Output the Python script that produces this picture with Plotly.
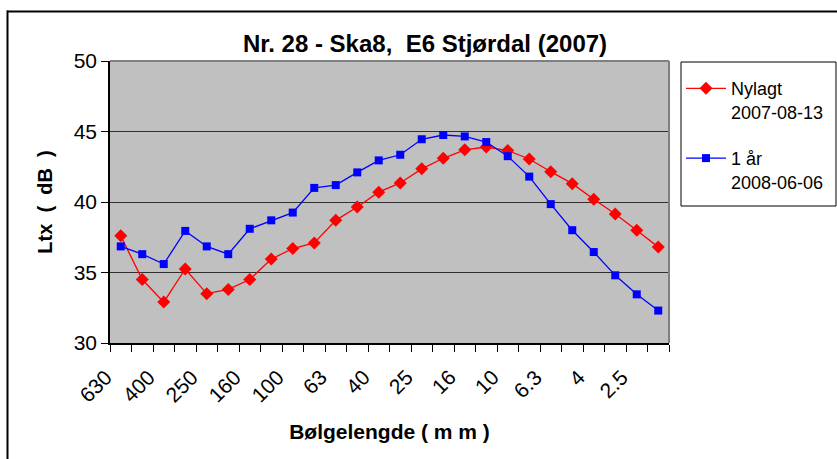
import plotly.graph_objects as go

categories = ["630", "500", "400", "315", "250", "200", "160", "125", "100", "80",
              "63", "50", "40", "31.5", "25", "20", "16", "12.5", "10", "8",
              "6.3", "5", "4", "3.2", "2.5", "2"]
tick_labels = [c if i % 2 == 0 else "" for i, c in enumerate(categories)]

nylagt = [37.6, 34.5, 32.9, 35.25, 33.5, 33.8, 34.5, 35.95, 36.7, 37.1,
          38.7, 39.65, 40.7, 41.35, 42.35, 43.1, 43.7, 43.9, 43.65, 43.05,
          42.15, 41.3, 40.2, 39.15, 38.0, 36.8]
ett_aar = [36.85, 36.3, 35.6, 37.95, 36.85, 36.3, 38.1, 38.7, 39.25, 41.0,
           41.2, 42.1, 42.95, 43.35, 44.45, 44.75, 44.65, 44.25, 43.25, 41.8,
           39.85, 38.0, 36.45, 34.8, 33.45, 32.3]

FONT = "Liberation Sans, Arial, sans-serif"

fig = go.Figure()
fig.add_trace(go.Scatter(
    x=categories, y=nylagt, mode="lines+markers", name="Nylagt<br>2007-08-13",
    line=dict(color="#FF0000", width=1.3), legendgroup="a",
    marker=dict(symbol="diamond", size=10, color="#FF0000")))
fig.add_trace(go.Scatter(
    x=categories, y=ett_aar, mode="lines+markers", name="1 år<br>2008-06-06",
    line=dict(color="#0000FF", width=1.3), legendgroup="b",
    marker=dict(symbol="square", size=8, color="#0000FF")))

L, R, T, B = 110, 669, 61, 343
W, H = 837, 459
pw, ph = R - L, B - T

fig.update_layout(
    width=W, height=H,
    margin=dict(l=L, r=W - R, t=T, b=H - B, autoexpand=False),
    paper_bgcolor="white", plot_bgcolor="#C0C0C0",
    font=dict(family=FONT, color="black", size=15),
    title=dict(text="<b>Nr. 28 - Ska8,  E6 Stjørdal (2007)</b>", x=425 / W, xref="container",
               xanchor="center", y=1 - 44 / H, yref="container", yanchor="middle",
               font=dict(size=24, family=FONT, color="black")),
    legend=dict(x=(681 - L) / pw, xanchor="left", y=1.0, yanchor="top",
                borderwidth=0, bgcolor="rgba(0,0,0,0)",
                font=dict(size=18, family=FONT), tracegroupgap=20,
                itemwidth=40, valign="top",
                title=dict(text=" ", font=dict(size=7))),
    showlegend=True,
)
fig.update_xaxes(
    type="category", categoryorder="array", categoryarray=categories,
    tickmode="array", tickvals=categories, ticktext=tick_labels,
    tickson="boundaries", ticks="outside", ticklen=7, tickcolor="black",
    tickangle=-45, tickfont=dict(size=21, family=FONT),
    ticklabelshift=-15, ticklabelstandoff=12,
    showline=True, linecolor="black", linewidth=1.5, showgrid=False,
    range=[-0.5, len(categories) - 0.5],
    title=dict(text="<b>Bølgelengde ( m m )</b>", font=dict(size=21, family=FONT), standoff=19),
)
fig.update_yaxes(
    range=[30, 50], dtick=5, tick0=30, ticks="outside", ticklen=7, tickcolor="black",
    tickfont=dict(size=21, family=FONT),
    showline=True, linecolor="black", linewidth=1.5,
    showgrid=True, gridcolor="#303030", gridwidth=1, zeroline=False,
    title=dict(text="<b>Ltx  (  dB  )</b>", font=dict(size=20, family=FONT), standoff=16),
)
# plot-area top/right border (gray)
fig.add_shape(type="line", xref="paper", yref="paper", x0=0, x1=1, y0=1, y1=1,
              line=dict(color="#808080", width=2))
fig.add_shape(type="line", xref="paper", yref="paper", x0=1, x1=1, y0=0, y1=1,
              line=dict(color="#808080", width=2))
# legend box
fig.add_shape(type="rect", xref="paper", yref="paper",
              x0=(681 - L) / pw, x1=(836 - L) / pw,
              y0=1 - (206 - T) / ph, y1=1 - (62 - T) / ph,
              line=dict(color="black", width=1), fillcolor="white", layer="below")
# outer chart border (top and left edges visible) as thin filled strips
fig.add_shape(type="rect", xref="paper", yref="paper",
              x0=(7 - L) / pw, x1=(837 - L) / pw,
              y0=1 + (T - 12.5) / ph, y1=1 + (T - 10.5) / ph,
              line=dict(width=0), fillcolor="black", layer="above")
fig.add_shape(type="rect", xref="paper", yref="paper",
              x0=(6.5 - L) / pw, x1=(8.5 - L) / pw,
              y0=-(459 - B) / ph, y1=1 + (T - 10.5) / ph,
              line=dict(width=0), fillcolor="black", layer="above")

fig.write_html("out.html", config={"displayModeBar": False},
               post_script="document.body.style.margin='0';")
